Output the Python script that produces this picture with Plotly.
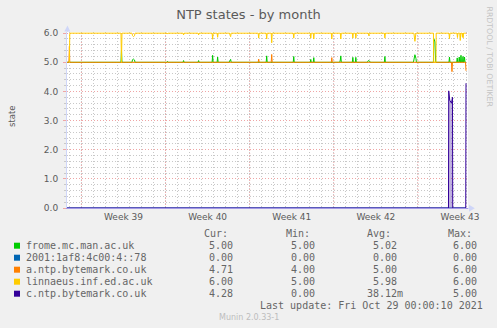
import plotly.graph_objects as go

# ---- time window and axis labelling ----
X_START = "2021-09-25 19:12"
X_END = "2021-10-29 04:00"
WEEK_STARTS = ["2021-09-27", "2021-10-04", "2021-10-11", "2021-10-18", "2021-10-25"]
WEEK_CENTERS = ["2021-09-30 12:00", "2021-10-07 12:00", "2021-10-14 12:00",
                "2021-10-21 12:00", "2021-10-28 12:00"]
WEEK_LABELS = ["Week 39", "Week 40", "Week 41", "Week 42", "Week 43"]
Y_TICKS = [0, 1, 2, 3, 4, 5, 6]

# ---- series: sample times and NTP state values ----
frome_t = [
    "2021-09-25 19:12", "2021-09-25 23:00", "2021-09-26 00:00", "2021-09-26 01:00",
    "2021-09-30 07:00", "2021-09-30 08:00", "2021-09-30 09:00",
    "2021-10-01 05:00", "2021-10-01 06:00", "2021-10-01 08:00", "2021-10-01 10:00", "2021-10-01 11:00",
    "2021-10-04 03:00", "2021-10-04 04:00", "2021-10-04 05:00",
    "2021-10-05 11:00", "2021-10-05 12:00", "2021-10-05 13:00",
    "2021-10-06 17:00", "2021-10-06 18:00", "2021-10-06 19:00",
    "2021-10-07 21:00", "2021-10-07 22:00", "2021-10-07 23:00",
    "2021-10-08 07:00", "2021-10-08 08:00", "2021-10-08 09:00",
    "2021-10-09 07:00", "2021-10-09 08:00", "2021-10-09 10:00", "2021-10-09 11:00",
    "2021-10-12 09:00", "2021-10-12 10:00", "2021-10-12 11:00",
    "2021-10-14 15:00", "2021-10-14 16:00", "2021-10-14 17:00",
    "2021-10-16 01:00", "2021-10-16 02:00", "2021-10-16 03:00",
    "2021-10-16 07:00", "2021-10-16 08:00", "2021-10-16 09:00",
    "2021-10-18 12:00", "2021-10-18 13:00", "2021-10-18 14:00", "2021-10-18 15:00",
    "2021-10-19 13:00", "2021-10-19 14:00", "2021-10-19 15:00",
    "2021-10-19 19:00", "2021-10-19 20:00", "2021-10-19 21:00",
    "2021-10-20 19:00", "2021-10-20 21:00", "2021-10-20 23:00", "2021-10-21 01:00",
    "2021-10-22 05:00", "2021-10-22 06:00", "2021-10-22 07:00",
    "2021-10-24 15:00", "2021-10-24 17:00", "2021-10-24 18:00", "2021-10-24 20:00", "2021-10-24 21:00",
    "2021-10-26 07:00", "2021-10-26 07:30", "2021-10-26 10:00", "2021-10-26 11:30",
    "2021-10-27 14:00", "2021-10-27 15:00", "2021-10-27 16:00",
    "2021-10-28 05:30", "2021-10-28 06:30", "2021-10-28 07:30",
    "2021-10-28 09:30", "2021-10-28 10:30", "2021-10-28 11:30",
    "2021-10-28 13:00", "2021-10-28 14:00", "2021-10-28 15:00",
    "2021-10-28 17:00", "2021-10-28 18:00", "2021-10-28 19:00",
    "2021-10-28 20:00", "2021-10-28 21:00", "2021-10-28 22:00", "2021-10-29 00:00",
]
frome_v = [
    5.00, 5.00, 5.04, 5.00,
    5.00, 5.42, 5.00,
    5.00, 5.09, 5.11, 5.08, 5.00,
    5.00, 5.03, 5.00,
    5.00, 5.06, 5.00,
    5.00, 5.06, 5.00,
    5.00, 5.24, 5.00,
    5.00, 5.18, 5.00,
    5.00, 5.04, 5.10, 5.00,
    5.00, 5.22, 5.00,
    5.00, 5.20, 5.00,
    5.00, 5.10, 5.00,
    5.00, 5.16, 5.00,
    5.00, 5.08, 5.22, 5.00,
    5.00, 5.17, 5.00,
    5.00, 5.17, 5.00,
    5.00, 5.06, 5.05, 5.00,
    5.00, 5.20, 5.00,
    5.00, 5.16, 5.26, 5.14, 5.00,
    5.00, 5.82, 5.70, 5.00,
    5.00, 5.18, 5.00,
    5.00, 5.15, 5.00,
    5.00, 5.18, 5.00,
    5.00, 5.24, 5.00,
    5.00, 5.20, 5.00,
    5.00, 5.18, 5.00, 5.00,
]

ipv6_t = ["2021-09-25 19:12", "2021-10-29 00:00"]
ipv6_v = [0.00, 0.00]

antp_t = [
    "2021-09-25 19:12", "2021-09-25 23:00", "2021-09-26 00:00", "2021-09-26 00:45",
    "2021-10-11 17:00", "2021-10-11 18:00", "2021-10-11 19:00",
    "2021-10-12 19:00", "2021-10-12 20:00", "2021-10-12 21:00",
    "2021-10-17 19:00", "2021-10-17 20:00", "2021-10-17 21:00",
    "2021-10-27 19:00", "2021-10-27 20:00", "2021-10-27 21:00",
    "2021-10-28 23:00", "2021-10-29 00:00",
]
antp_v = [
    5.00, 5.00, 5.55, 5.00,
    5.00, 5.11, 5.00,
    5.00, 5.27, 5.00,
    5.00, 5.16, 5.00,
    5.00, 4.68, 5.00,
    5.00, 4.71,
]

linnaeus_t = [
    "2021-09-26 00:00", "2021-09-26 00:45",
    "2021-09-30 07:00", "2021-09-30 08:00", "2021-09-30 09:00",
    "2021-10-01 05:00", "2021-10-01 06:00", "2021-10-01 08:00", "2021-10-01 10:00", "2021-10-01 11:00",
    "2021-10-04 03:00", "2021-10-04 04:00", "2021-10-04 05:00",
    "2021-10-05 11:00", "2021-10-05 12:00", "2021-10-05 13:00",
    "2021-10-06 17:00", "2021-10-06 18:00", "2021-10-06 19:00",
    "2021-10-07 21:00", "2021-10-07 22:00", "2021-10-07 23:00",
    "2021-10-08 07:00", "2021-10-08 08:00", "2021-10-08 09:00",
    "2021-10-09 08:00", "2021-10-09 09:00", "2021-10-09 10:00", "2021-10-09 11:00",
    "2021-10-11 17:00", "2021-10-11 18:00", "2021-10-11 19:00",
    "2021-10-12 09:00", "2021-10-12 10:00", "2021-10-12 11:00",
    "2021-10-12 19:00", "2021-10-12 20:00", "2021-10-12 21:00",
    "2021-10-14 15:00", "2021-10-14 16:00", "2021-10-14 17:00",
    "2021-10-16 01:00", "2021-10-16 02:00", "2021-10-16 03:00",
    "2021-10-16 07:00", "2021-10-16 08:00", "2021-10-16 09:00",
    "2021-10-17 19:00", "2021-10-17 20:00", "2021-10-17 21:00",
    "2021-10-18 13:00", "2021-10-18 14:00", "2021-10-18 15:00",
    "2021-10-19 13:00", "2021-10-19 14:00", "2021-10-19 15:00",
    "2021-10-19 19:00", "2021-10-19 20:00", "2021-10-19 21:00",
    "2021-10-20 21:00", "2021-10-20 22:00", "2021-10-20 23:00",
    "2021-10-22 05:00", "2021-10-22 06:00", "2021-10-22 07:00",
    "2021-10-24 16:00", "2021-10-24 18:00", "2021-10-24 20:00",
    "2021-10-26 07:00", "2021-10-26 07:30", "2021-10-26 12:00", "2021-10-26 12:30",
    "2021-10-27 14:00", "2021-10-27 15:00", "2021-10-27 16:00",
    "2021-10-28 06:00", "2021-10-28 07:00", "2021-10-28 08:00",
    "2021-10-28 11:30", "2021-10-28 12:30", "2021-10-28 13:30",
    "2021-10-28 16:00", "2021-10-28 16:45", "2021-10-28 17:30",
    "2021-10-28 18:15", "2021-10-28 19:00", "2021-10-29 00:00",
]
linnaeus_v = [
    5.00, 6.00,
    6.00, 5.00, 6.00,
    6.00, 5.92, 5.88, 5.91, 6.00,
    6.00, 5.97, 6.00,
    6.00, 5.94, 6.00,
    6.00, 5.94, 6.00,
    6.00, 5.79, 6.00,
    6.00, 5.86, 6.00,
    6.00, 5.92, 5.88, 6.00,
    6.00, 5.83, 6.00,
    6.00, 5.80, 6.00,
    6.00, 5.67, 6.00,
    6.00, 5.83, 6.00,
    6.00, 5.83, 6.00,
    6.00, 5.80, 6.00,
    6.00, 5.80, 6.00,
    6.00, 5.80, 6.00,
    6.00, 5.83, 6.00,
    6.00, 5.83, 6.00,
    6.00, 5.91, 6.00,
    6.00, 5.83, 6.00,
    6.00, 5.72, 6.00,
    6.00, 5.00, 5.00, 6.00,
    6.00, 5.81, 6.00,
    6.00, 5.85, 6.00,
    6.00, 5.75, 6.00,
    6.00, 5.88, 6.00,
    5.84, 6.00, 6.00,
]

cntp_t = [
    "2021-09-25 19:12", "2021-10-27 13:00", "2021-10-27 13:30", "2021-10-27 15:30",
    "2021-10-27 19:00", "2021-10-27 21:00", "2021-10-27 21:30",
    "2021-10-28 23:30", "2021-10-29 00:00",
]
cntp_v = [0.00, 0.00, 4.02, 3.70, 3.60, 3.80, 0.00, 0.00, 4.28]

# ---- legend table ----
NAMES = ["frome.mc.man.ac.uk", "2001:1af8:4c00:4::78", "a.ntp.bytemark.co.uk",
         "linnaeus.inf.ed.ac.uk", "c.ntp.bytemark.co.uk"]
COLORS = ["#00CC00", "#0066B3", "#FF8000", "#FFCC00", "#330099"]
CUR = [5.00, 0.00, 4.71, 6.00, 4.28]
MIN = [5.00, 0.00, 4.00, 5.00, 0.00]
AVG = [5.02, 0.00, 5.00, 5.98, 0.03812]
MAX = [6.00, 0.00, 6.00, 6.00, 5.00]
COL_HEADERS = ["Cur:", "Min:", "Avg:", "Max:"]
LAST_UPDATE = "Last update: Fri Oct 29 00:00:10 2021"
TITLE = "NTP states - by month"
Y_TITLE = "state"
WATERMARK = "RRDTOOL / TOBI OETIKER"
VERSION = "Munin 2.0.33-1"

SERIES = [
    (frome_t, frome_v), (ipv6_t, ipv6_v), (antp_t, antp_v),
    (linnaeus_t, linnaeus_v), (cntp_t, cntp_v),
]

# ---- page geometry (pixels) ----
W, H = 497, 328
ML, MR, MT, MB = 67, 29, 32, 120
PW, PH = W - ML - MR, H - MT - MB

FONT = "DejaVu Sans"
MONO = "DejaVu Sans Mono"
TXT = "#5A5A5A"
LTXT = "#666666"
BG = "#F0F0F0"
AXIS = "#CFD6F8"
GRID = "#C8C8C8"
MGRID = "#EFA5A5"
DOT = "1px,2px"


def px(x):
    return (x - ML) / PW


def py(y):
    return (MT + PH - y) / PH


def note(text, x, y, size, color=LTXT, family=MONO, xanchor="center", angle=0):
    return dict(text=text, x=px(x), y=py(y), xref="paper", yref="paper",
                xanchor=xanchor, yanchor="middle", textangle=angle, showarrow=False,
                borderpad=0, borderwidth=0, font=dict(family=family, size=size, color=color))


fig = go.Figure()
for (t, v), name, col in zip(SERIES, NAMES, COLORS):
    kw = {}
    if name == "c.ntp.bytemark.co.uk":
        kw = dict(fill="tozeroy", fillcolor="rgba(51,0,153,0.30)")
    fig.add_trace(go.Scatter(x=t, y=v, mode="lines", name=name,
                             line=dict(color=col, width=1), **kw))

shapes = []
# weekly (major) vertical grid lines
for d in WEEK_STARTS:
    shapes.append(dict(type="line", xref="x", yref="paper", x0=d, x1=d, y0=0, y1=1,
                       line=dict(color=MGRID, width=1, dash=DOT), layer="between"))
# axis arrows
shapes.append(dict(type="path", xref="paper", yref="paper",
                   path=f"M {px(64.3)} {py(31.5)} L {px(67.5)} {py(25.5)} L {px(70.3)} {py(31.5)} Z",
                   fillcolor=AXIS, line=dict(width=0)))
shapes.append(dict(type="line", xref="paper", yref="paper", x0=px(67.5), x1=px(67.5),
                   y0=py(32), y1=py(30), line=dict(color=AXIS, width=1)))
shapes.append(dict(type="path", xref="paper", yref="paper",
                   path=f"M {px(469)} {py(204.8)} L {px(474.8)} {py(208.3)} L {px(469)} {py(211.8)} Z",
                   fillcolor=AXIS, line=dict(width=0)))
shapes.append(dict(type="line", xref="paper", yref="paper", x0=px(468), x1=px(470),
                   y0=py(208.3), y1=py(208.3), line=dict(color=AXIS, width=1)))

ann = []
# y-axis title, side watermark and version footer
ann.append(note(Y_TITLE, 12, 116, 8.5, TXT, FONT, angle=-90))
ann.append(note(WATERMARK, 489, 56.5, 7.8, "#C4C4C4", FONT, angle=90))
ann.append(note(VERSION, 248.5, 317, 8, "#BDBDBD", FONT))

CH = 6.02  # monospace advance at 10px
header_left = [203.7, 285.7, 366.7, 447.7]
value_right = [233.3, 315.0, 396.7, 477.3]
for h, xl in zip(COL_HEADERS, header_left):
    ann.append(note(h, xl, 233.3, 10, xanchor="left"))


def fmt(v):
    if v != 0 and abs(v) < 1:
        return f"{v * 1000:.2f}", "m"
    return f"{v:.2f}", ""


row_y = [245.7, 257.7, 269.7, 281.7, 293.7]
for i, name in enumerate(NAMES):
    yc = row_y[i]
    shapes.append(dict(type="rect", xref="paper", yref="paper",
                       x0=px(14), x1=px(20), y0=py(yc + 3), y1=py(yc - 3),
                       fillcolor=COLORS[i], line=dict(width=0)))
    ann.append(note(name, 26.3, yc, 10, xanchor="left"))
    for col, xr in zip((CUR, MIN, AVG, MAX), value_right):
        num, suf = fmt(col[i])
        ann.append(note(num + suf, xr + CH * len(suf), yc, 10, xanchor="right"))

ann.append(note(LAST_UPDATE, 483.3, 305.7, 10, xanchor="right"))

fig.update_layout(
    width=W, height=H,
    margin=dict(l=ML, r=MR, t=MT, b=MB, pad=0),
    paper_bgcolor=BG, plot_bgcolor="#FFFFFF",
    showlegend=False,
    title=dict(text=TITLE, x=0.5, xref="container", xanchor="center",
               y=1 - 14 / H, yref="container", yanchor="middle",
               font=dict(family=FONT, size=13, color=TXT)),
    xaxis=dict(type="date", range=[X_START, X_END], automargin=False,
               tickvals=WEEK_CENTERS, ticktext=WEEK_LABELS, ticks="", showgrid=False,
               tickfont=dict(family=FONT, size=9, color=TXT),
               showline=True, linecolor="#A498E6", linewidth=1, zeroline=False,
               minor=dict(dtick=86400000, tick0="2021-09-26", showgrid=True,
                          gridcolor=GRID, griddash=DOT, gridwidth=1)),
    yaxis=dict(range=[0, 6.04], automargin=False, tickvals=Y_TICKS, tickformat=".1f",
               showgrid=True, gridcolor=MGRID, griddash=DOT, gridwidth=1,
               ticks="outside", ticklen=3, tickcolor=MGRID, ticklabelstandoff=3,
               tickfont=dict(family=FONT, size=9, color=TXT),
               showline=True, linecolor=AXIS, linewidth=1, zeroline=False,
               minor=dict(dtick=0.2, showgrid=True, gridcolor=GRID, griddash=DOT,
                          gridwidth=1, ticks="outside", ticklen=2, tickcolor=GRID)),
    shapes=shapes,
    annotations=ann,
)

fig.write_html("out.html")
